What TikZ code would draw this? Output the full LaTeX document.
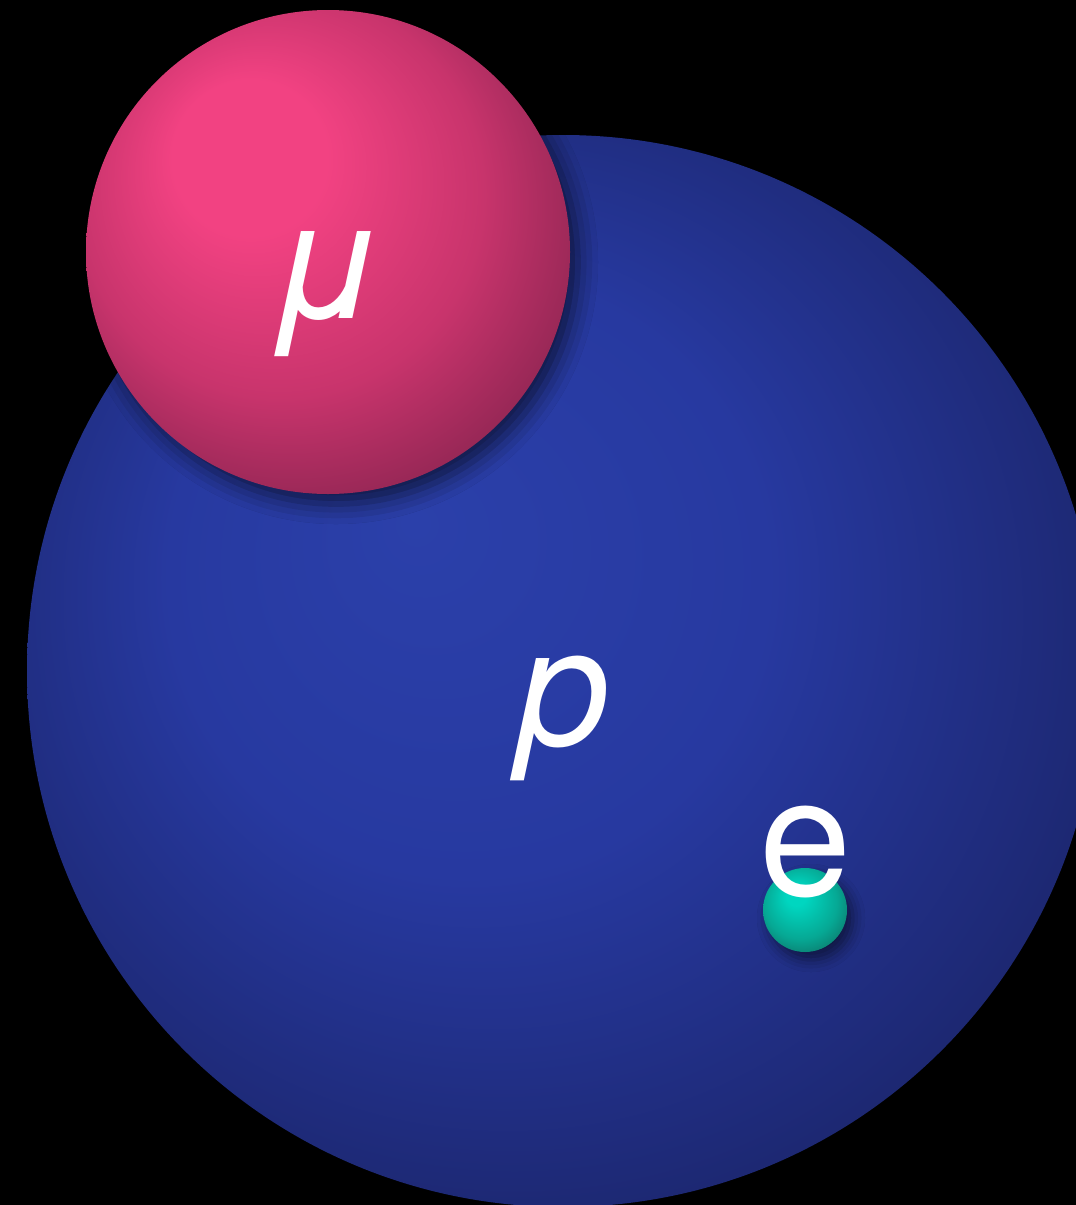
\documentclass[tikz,border=0pt]{standalone}
\usepackage{fontspec}
\setmainfont{TeX Gyre Heros}
\usetikzlibrary{shadows.blur}
\definecolor{bluehi}{HTML}{2B40AA}
\definecolor{bluemid}{HTML}{2739A0}
\definecolor{bluedk}{HTML}{1E2A78}
\definecolor{blueout}{HTML}{141A4C}
\definecolor{pinkhi}{HTML}{F24282}
\definecolor{pinkmid}{HTML}{C8346C}
\definecolor{pinkdk}{HTML}{8A2450}
\definecolor{pinkout}{HTML}{66193A}
\definecolor{tealhi}{HTML}{00D6C0}
\definecolor{tealmid}{HTML}{06A894}
\definecolor{tealdk}{HTML}{0E6E62}
\pgfdeclareradialshading{blueball}{\pgfpoint{-7bp}{7bp}}{color(0bp)=(bluehi); color(14bp)=(bluemid); color(26bp)=(bluedk); color(38bp)=(blueout)}
\pgfdeclareradialshading{pinkball}{\pgfpoint{-10bp}{12bp}}{color(0bp)=(pinkhi); color(8bp)=(pinkhi); color(21bp)=(pinkmid); color(32bp)=(pinkdk); color(42bp)=(pinkout)}
\pgfdeclareradialshading{tealball}{\pgfpoint{-6bp}{10bp}}{color(0bp)=(tealhi); color(6bp)=(tealhi); color(22bp)=(tealmid); color(34bp)=(tealdk); color(42bp)=(tealdk)}
\tikzset{
  ball/.style={circle, inner sep=0pt, draw=none},
  lbl/.style={inner sep=0pt, anchor=base, text=white, font=\fontsize{166}{166}\selectfont}
}
\begin{document}
\begin{tikzpicture}[x=1pt,y=-1pt]
\useasboundingbox (0,0) rectangle (1076,1205);
\fill[black] (0,0) rectangle (1076,1205);
\clip (0,0) rectangle (1076,1205);
\node[ball, minimum size=1072pt, shading=blueball] (proton) at (563,671) {};
\node[ball, minimum size=484pt, shading=pinkball,
  blur shadow={shadow xshift=8pt, shadow yshift=-10pt, shadow blur radius=20pt, shadow opacity=60}] (muon) at (328,252) {};
\node[ball, minimum size=84pt, shading=tealball,
  blur shadow={shadow xshift=6pt, shadow yshift=-8pt, shadow blur radius=12pt, shadow opacity=50}] (electron) at (805,910) {};
\node[lbl] (mulabel) at (326,318) {\itshape μ};
\node[lbl] (plabel) at (564,745) {\itshape p};
\node[lbl] (elabel) at (806,895) {e};
\end{tikzpicture}
\end{document}
